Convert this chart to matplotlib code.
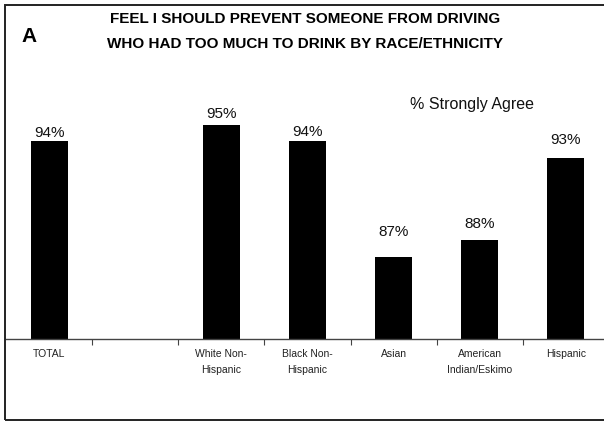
import matplotlib
matplotlib.use("Agg")
import matplotlib.pyplot as plt
from matplotlib.patches import Rectangle

plt.rcParams['font.family'] = ['Liberation Sans', 'DejaVu Sans']

# Share who strongly agree, by group
categories = ["TOTAL", "", "White Non-\nHispanic", "Black Non-\nHispanic",
              "Asian", "American\nIndian/Eskimo", "Hispanic"]
values = [94, None, 95, 94, 87, 88, 93]
value_labels = ["94%", "", "95%", "94%", "87%", "88%", "93%"]

# vertical gap (pixels) between each bar top and its label centre
label_gap_px = [8, 0, 11, 9, 25, 16, 18]

W, H, DPI = 604, 422, 100
fig = plt.figure(figsize=(W / DPI, H / DPI), dpi=DPI)

# outer frame of the slide
frame = Rectangle((5 / W, (H - 420) / H), 1.2, (420 - 5) / H,
                  transform=fig.transFigure, fill=False,
                  edgecolor="#222222", linewidth=1.4)
fig.patches.append(frame)

ax = fig.add_axes([6 / W, (H - 339) / H, 603 / W, (339 - 42) / H])
ax.set_xlim(-0.5, len(categories) - 0.5)
ax.set_ylim(82, 100)

xs = [i for i, v in enumerate(values) if v is not None]
hs = [v for v in values if v is not None]
ax.bar(xs, [h - 82 for h in hs], bottom=82, width=0.43, color="black")

for i, v in enumerate(values):
    if v is None:
        continue
    ax.annotate(value_labels[i], (i, v), xytext=(0, label_gap_px[i] * 72 / DPI),
                textcoords="offset points", ha="center", va="center",
                fontsize=11, color="#111111")

for side in ("left", "right", "top"):
    ax.spines[side].set_visible(False)
ax.spines["bottom"].set_color("#444444")
ax.spines["bottom"].set_linewidth(1.0)
ax.set_yticks([])

ax.set_xticks(range(len(categories)))
ax.set_xticklabels(categories, fontsize=7.5, color="#222222", linespacing=1.65)
ax.tick_params(axis="x", which="major", length=0, pad=7.5)
ax.set_xticks([i + 0.5 for i in range(len(categories) - 1)], minor=True)
ax.tick_params(axis="x", which="minor", length=4, width=0.8, color="#444444",
               direction="out")

fig.text(305 / W, 1 - 19 / H, "FEEL I SHOULD PREVENT SOMEONE FROM DRIVING",
         ha="center", va="center", fontsize=11, fontweight="bold")
fig.text(305 / W, 1 - 44 / H, "WHO HAD TOO MUCH TO DRINK BY RACE/ETHNICITY",
         ha="center", va="center", fontsize=11, fontweight="bold")
fig.text(29 / W, 1 - 36 / H, "A", ha="center", va="center",
         fontsize=15, fontweight="bold")
fig.text(472 / W, 1 - 105 / H, "% Strongly Agree", ha="center", va="center",
         fontsize=11.5, color="#111111")

fig.savefig("out.png", dpi=DPI)
